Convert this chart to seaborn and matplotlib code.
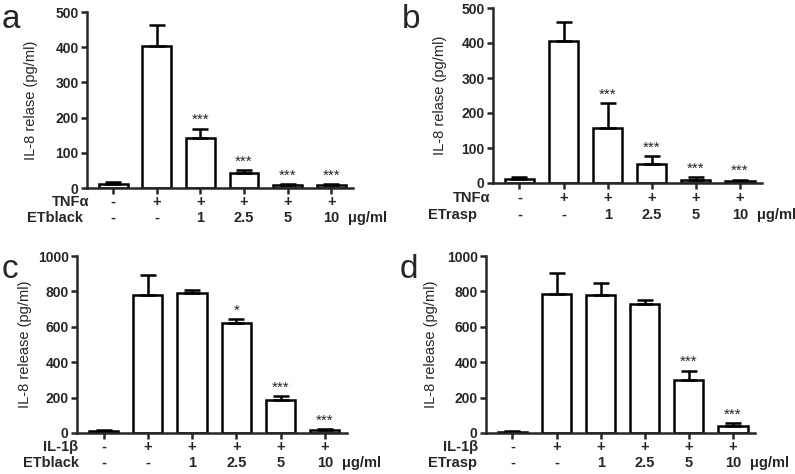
import numpy as np
import pandas as pd
import matplotlib
matplotlib.use("Agg")
import matplotlib.pyplot as plt
import seaborn as sns

# ---- data ----
a_mean = [11, 404, 141, 43, 9, 9]
a_err = [7, 58, 28, 9, 2, 3]
b_mean = [11, 405, 157, 55, 10, 7]
b_err = [7, 55, 72, 23, 6, 3]
c_mean = [9, 780, 791, 622, 184, 19]
c_err = [6, 115, 19, 23, 23, 5]
d_mean = [8, 786, 778, 727, 299, 39]
d_err = [5, 116, 70, 25, 54, 16]

stars_ab = ["", "", "***", "***", "***", "***"]
stars_c = ["", "", "", "*", "***", "***"]
stars_d = ["", "", "", "", "***", "***"]

stim_row = ["-", "+", "+", "+", "+", "+"]
dose_row = ["-", "-", "1", "2.5", "5", "10"]
unit_label = "\u03bcg/ml"

ylabels = ["IL-8 relase (pg/ml)", "IL-8 relase (pg/ml)",
           "IL-8 release (pg/ml)", "IL-8 release (pg/ml)"]
stim_names = ["TNF\u03b1", "TNF\u03b1", "IL-1\u03b2", "IL-1\u03b2"]
extract_names = ["ETblack", "ETrasp", "ETblack", "ETrasp"]
panel_letters = ["a", "b", "c", "d"]

sns.set_theme(style="ticks")
plt.rcParams['font.family'] = ['Liberation Sans', 'DejaVu Sans']

W, H = 795, 474
fig = plt.figure(figsize=(W / 100, H / 100), dpi=100)

def fx(px):
    return px / W

def fy(py):
    return 1 - py / H

# panel geometry in pixels: left, right, top(y of max), bottom(y of 0)
geoms = [
    (87, 353, 12, 188),
    (493, 762, 8, 183),
    (77, 347, 256, 433),
    (486, 755, 256, 433),
]
ymaxs = [500, 500, 1000, 1000]
ystep = [100, 100, 200, 200]
means = [a_mean, b_mean, c_mean, d_mean]
errs = [a_err, b_err, c_err, d_err]
stars = [stars_ab, stars_ab, stars_c, stars_d]
label_off = [49, 46, 45, 48]
row_y = [(202, 218), (198, 215), (447, 463), (447, 463)]
stim_x = [52, 453, 43, 443]
ext_x = [27, 428, 23, 428]
letter_pos = [(2, 28), (402, 28), (2, 278), (400, 278)]

LW = 1.8
for i in range(4):
    l, r, t, b = geoms[i]
    ax = fig.add_axes([fx(l), fy(b), fx(r - l), (b - t) / H])
    df = pd.DataFrame({"cond": list(range(6)), "val": means[i]})
    sns.barplot(data=df, x="cond", y="val", ax=ax, color="white",
                edgecolor="black", linewidth=LW, width=0.66,
                errorbar=None, saturation=1)
    xs = np.arange(6)
    ax.errorbar(xs, means[i], yerr=[np.zeros(6), errs[i]], fmt="none",
                ecolor="black", elinewidth=LW, capsize=5.5, capthick=LW,
                zorder=1)
    for x, m, e, s in zip(xs, means[i], errs[i], stars[i]):
        if s:
            ax.annotate(s, (x, m + e), xytext=(0, 1), textcoords="offset points",
                        ha="center", va="bottom", fontsize=11)
    ax.set_xlim(-0.6, 5.5)
    ax.set_ylim(0, ymaxs[i])
    ax.set_yticks(np.arange(0, ymaxs[i] + 1, ystep[i]))
    ax.set_xticks(xs)
    ax.set_xticklabels([])
    ax.set_xlabel("")
    ax.set_ylabel(ylabels[i], fontsize=10.5)
    ax.yaxis.set_label_coords(-label_off[i] / (r - l), 0.5)
    for lab in ax.get_yticklabels():
        lab.set_fontweight("bold")
        lab.set_fontsize(10)
    ax.tick_params(axis="both", direction="out", length=4, width=LW, pad=2)
    for sp in ["top", "right"]:
        ax.spines[sp].set_visible(False)
    for sp in ["left", "bottom"]:
        ax.spines[sp].set_linewidth(LW)
    ax.set_facecolor("none")

    # row labels beneath
    y1, y2 = row_y[i]
    fig.text(fx(stim_x[i]), fy(y1), stim_names[i], ha="left", va="center",
             fontsize=10.5, fontweight="bold")
    fig.text(fx(ext_x[i]), fy(y2), extract_names[i], ha="left", va="center",
             fontsize=10.5, fontweight="bold")
    trans = matplotlib.transforms.blended_transform_factory(ax.transData, fig.transFigure)
    for x, s1, s2 in zip(xs, stim_row, dose_row):
        ax.text(x, fy(y1), s1, transform=trans, ha="center", va="center",
                fontsize=10.5, fontweight="bold")
        ax.text(x, fy(y2), s2, transform=trans, ha="center", va="center",
                fontsize=10.5, fontweight="bold")
    ax.text(5.38, fy(y2), unit_label, transform=trans, ha="left", va="center",
            fontsize=10.5, fontweight="bold")

    lx, ly = letter_pos[i]
    fig.text(fx(lx), fy(ly), panel_letters[i], ha="left", va="baseline",
             fontsize=24)

fig.savefig("out.png", dpi=100, facecolor="white")
